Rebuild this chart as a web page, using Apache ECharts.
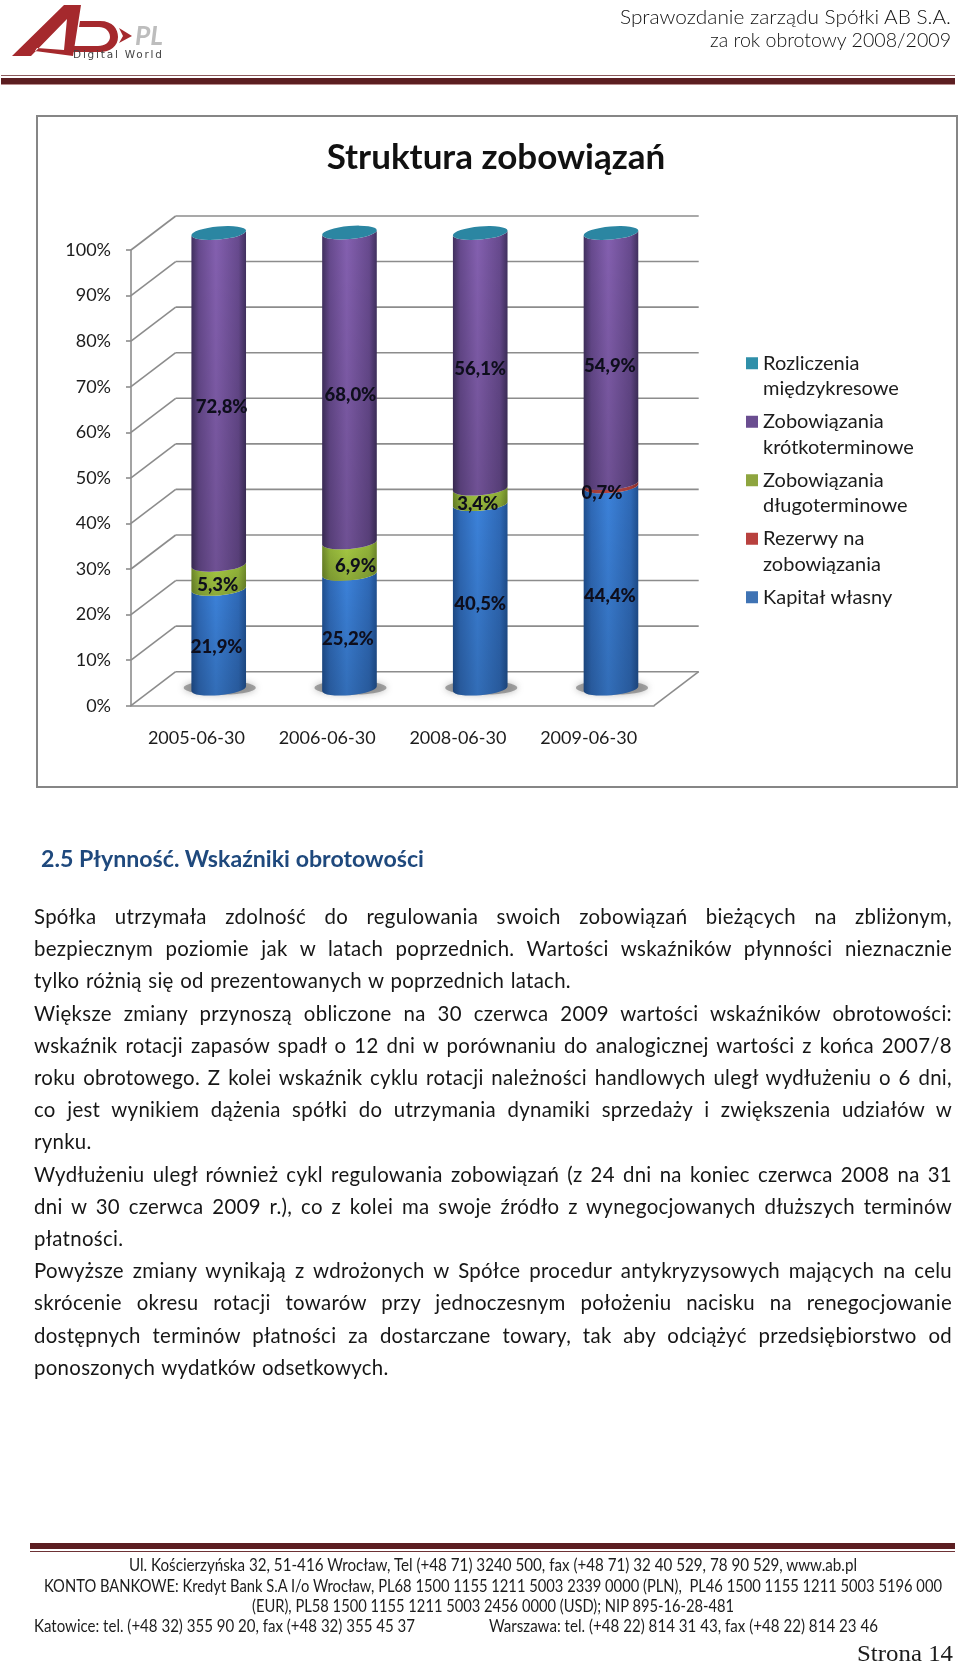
<!DOCTYPE html>
<html lang="pl">
<head>
<meta charset="utf-8">
<title>Struktura zobowiązań</title>
<script src="https://cdn.jsdelivr.net/npm/echarts@6/dist/echarts.min.js"></script>
<style>
html,body{margin:0;padding:0;background:#fff}
#page{position:relative;width:960px;height:1663px;overflow:hidden;font-family:Lato,"Open Sans",sans-serif;color:#1c1c1c}
#chart{position:absolute;left:0;top:0;width:960px;height:1663px}
.ln{position:absolute;white-space:nowrap}
.fit{display:inline-block;transform-origin:0 50%;white-space:pre}
.rule{position:absolute}
</style>
</head>
<body>
<div id="page">
<div id="chart"></div>
<svg style="position:absolute;left:0;top:0" width="180" height="70" viewBox="0 0 180 70">
  <path fill="#a5292d" fill-rule="evenodd" d="M12 56 L64 5 L81 5 L73 56 L35 51 L37 48 L64 50 L67 19 L31 56 Z"/>
  <path fill="#a5292d" fill-rule="evenodd" d="M80 21 L100 21 C113 21 118 29 118 37 C118 46 110 52 100 52 L72 52 L73 46 L98 46 C105 46 110 42 110 37 C110 31 105 27 99 27 L79 27 Z"/>
  <path fill="#a5292d" d="M119 28 L132 36 L119 43 L123 36 Z"/>
  <text x="135" y="45" font-family="Lato,sans-serif" font-style="italic" font-weight="700" font-size="26" textLength="28" lengthAdjust="spacingAndGlyphs" fill="#bdbdbd">PL</text>
  <text x="73" y="58" font-family="DejaVu Sans,sans-serif" font-size="10.5" textLength="89" fill="#444">Digital  World</text>
</svg>
<div class="rule" style="left:1px;top:75px;width:954px;height:1px;background:#8d5a5c"></div>
<div class="rule" style="left:1px;top:78px;width:954px;height:6px;background:#5c1e21"></div>
<div class="rule" style="left:1px;top:84px;width:954px;height:1px;background:#b98d8e"></div>
<div class="rule" style="left:30px;top:1543px;width:925px;height:6px;background:#5c1e21"></div>
<div class="rule" style="left:30px;top:1551px;width:925px;height:1px;background:#6d3235"></div>
<div id="text"></div>
</div>
<script>
// ---- chart data ----
var categories = ['2005-06-30', '2006-06-30', '2008-06-30', '2009-06-30'];
var yTicks = [0, 10, 20, 30, 40, 50, 60, 70, 80, 90, 100];
var kapitalWlasny = [21.9, 25.2, 40.5, 44.4];
var rezerwy = [0, 0, 0, 0.7];
var zobDlugo = [5.3, 6.9, 3.4, 0];
var zobKrotko = [72.8, 68.0, 56.1, 54.9];
var rozliczenia = [0, 0, 0, 0];

// ---- document text around the chart ----
var bodyLines = [
 ['Spółka utrzymała zdolność do regulowania swoich zobowiązań bieżących na zbliżonym,', 1],
 ['bezpiecznym poziomie jak w latach poprzednich. Wartości wskaźników płynności nieznacznie', 1],
 ['tylko różnią się od prezentowanych w poprzednich latach.', 0],
 ['Większe zmiany przynoszą obliczone na 30 czerwca 2009 wartości wskaźników obrotowości:', 1],
 ['wskaźnik rotacji zapasów spadł o 12 dni w porównaniu do analogicznej wartości z końca 2007/8', 1],
 ['roku obrotowego. Z kolei wskaźnik cyklu rotacji należności handlowych uległ wydłużeniu o 6 dni,', 1],
 ['co jest wynikiem dążenia spółki do utrzymania dynamiki sprzedaży i zwiększenia udziałów w', 1],
 ['rynku.', 0],
 ['Wydłużeniu uległ również cykl regulowania zobowiązań (z 24 dni na koniec czerwca 2008 na 31', 1],
 ['dni w 30 czerwca 2009 r.), co z kolei ma swoje źródło z wynegocjowanych dłuższych terminów', 1],
 ['płatności.', 0],
 ['Powyższe zmiany wynikają z wdrożonych w Spółce procedur antykryzysowych mających na celu', 1],
 ['skrócenie okresu rotacji towarów przy jednoczesnym położeniu nacisku na renegocjowanie', 1],
 ['dostępnych terminów płatności za dostarczane towary, tak aby odciążyć przedsiębiorstwo od', 1],
 ['ponoszonych wydatków odsetkowych.', 0]
];
var fitted = [
 // text, x0, x1, centre y, font-size, extra css
 ['Sprawozdanie zarządu Spółki AB S.A.', 620, 951, 16, 20, 'font-weight:300;color:#111'],
 ['za rok obrotowy 2008/2009', 710, 951, 39, 20, 'font-weight:300;color:#111'],
 ['2.5 Płynność. Wskaźniki obrotowości', 41, 424, 858, 23, 'font-weight:700;color:#1f497d'],
 ['Ul. Kościerzyńska 32, 51-416 Wrocław, Tel (+48 71) 3240 500, fax (+48 71) 32 40 529, 78 90 529, www.ab.pl', 129, 857, 1565, 17.5, ''],
 ['KONTO BANKOWE: Kredyt Bank S.A I/o Wrocław, PL68 1500 1155 1211 5003 2339 0000 (PLN),  PL46 1500 1155 1211 5003 5196 000', 44, 942, 1586, 17.5, ''],
 ['(EUR), PL58 1500 1155 1211 5003 2456 0000 (USD); NIP 895-16-28-481', 252, 734, 1606, 17.5, ''],
 ['Katowice: tel. (+48 32) 355 90 20, fax (+48 32) 355 45 37', 34, 415, 1626, 17.5, ''],
 ['Warszawa: tel. (+48 22) 814 31 43, fax (+48 22) 814 23 46', 489, 878, 1626, 17.5, ''],
 ['Strona 14', 857, 953, 1653, 24, 'font-family:"Liberation Serif",serif']
];
var host = document.getElementById('text');
bodyLines.forEach(function (l, i) {
  var d = document.createElement('div');
  d.className = 'ln';
  d.textContent = l[0];
  var y = 916 + i * 32.2;
  d.style.cssText = 'left:34px;width:918px;top:' + (y - 16) + 'px;height:32px;line-height:32px;font-size:20.4px;letter-spacing:0.3px;word-spacing:1px;color:#161616;white-space:normal;' +
    (l[1] ? 'text-align:justify;text-align-last:justify;' : '');
  host.appendChild(d);
});
fitted.forEach(function (f) {
  var d = document.createElement('div');
  d.className = 'ln';
  d.style.cssText = 'left:' + f[1] + 'px;top:' + (f[3] - 16) + 'px;height:32px;line-height:32px;font-size:' + f[4] + 'px;' + f[5];
  var s = document.createElement('span');
  s.className = 'fit';
  s.textContent = f[0];
  d.appendChild(s);
  host.appendChild(d);
  s.style.transform = 'scaleX(' + ((f[2] - f[1]) / s.getBoundingClientRect().width) + ')';
});

// ---- chart ----
var DX = 44.7, DY = -34;          // depth of the 3-D box
var RX = 27.3, RY = 6.5, TILT = 5; // cylinder cross-section
var dyTilt = RX * Math.sin(TILT * Math.PI / 180);

var stackOrder = [
 {name: 'Kapitał własny', legend: '\nKapitał własny\n ', vals: kapitalWlasny, nudge: [-2, -1.5, 0, -1], edge: '#1f4f8f', side: '#2f6ab8', mid: '#3c82da', icon: '#3f73b4'},
 {name: 'Rezerwy na zobowiązania', legend: '\nRezerwy na\nzobowiązania', vals: rezerwy, nudge: [0, 0, 0, -9], edge: '#8a2f2d', side: '#b5433f', mid: '#cf4f4c', icon: '#b8413e'},
 {name: 'Zobowiązania długoterminowe', legend: '\nZobowiązania\ndługoterminowe', vals: zobDlugo, nudge: [-1, 6, -2.5, 0], edge: '#6f8a2a', side: '#93b53a', mid: '#a8cc44', icon: '#8ea53f'},
 {name: 'Zobowiązania krótkoterminowe', legend: '\nZobowiązania\nkrótkoterminowe', vals: zobKrotko, nudge: [3, 1, 0, -1], edge: '#40305e', side: '#674a8e', mid: '#8460b0', icon: '#6a4d90'},
 {name: 'Rozliczenia międzykresowe', legend: '\nRozliczenia\nmiędzykresowe', vals: rozliczenia, nudge: [0, 0, 0, 0], edge: '#1f6f88', side: '#2b86a2', mid: '#2b86a2', icon: '#2f8fa9'}
];

function cylGradient(s) {
  return {type: 'linear', x: 0, y: 0, x2: 1, y2: 0, colorStops: [
    {offset: 0, color: s.edge}, {offset: 0.14, color: s.side},
    {offset: 0.45, color: s.mid},
    {offset: 0.86, color: s.side}, {offset: 1, color: s.edge}]};
}
function arc(x, y, sweep) {
  return 'A' + RX + ' ' + RY + ' ' + (-TILT) + ' 0 ' + sweep + ' ' + x + ' ' + y;
}
function fmt(v) { return v.toFixed(1).replace('.', ',') + '%'; }

function renderSegment(si) {
  return function (params, api) {
    var s = stackOrder[si], idx = api.value(0), v = api.value(1), base = 0;
    for (var k = 0; k < si; k++) base += stackOrder[k].vals[idx];
    var p0 = api.coord([idx, base]), p1 = api.coord([idx, base + v]);
    var cx = p0[0] + DX / 2, y0 = p0[1] + DY / 2, y1 = p1[1] + DY / 2;
    var kids = [];
    if (v > 0) {
      var l = cx - RX, r = cx + RX;
      var d = 'M' + l + ' ' + (y0 + dyTilt) + arc(r, y0 - dyTilt, 0) +
        'L' + r + ' ' + (y1 - dyTilt) + arc(l, y1 + dyTilt, 1) + 'Z';
      kids.push({type: 'path', shape: {pathData: d}, z2: 10, style: {fill: cylGradient(s)}});
      kids.push({type: 'path', shape: {pathData: d}, z2: 11, style: {fill: {type: 'linear', x: 0, y: 0, x2: 0, y2: 1,
        colorStops: [{offset: 0, color: 'rgba(0,0,0,0)'}, {offset: 1, color: 'rgba(0,0,0,0.16)'}]}}});
      kids.push({type: 'text', z2: 50, style: {text: fmt(v), x: cx + s.nudge[idx], y: (y0 + y1) / 2 + 8,
        align: 'center', verticalAlign: 'middle', fill: '#0e0e1c',
        fontFamily: 'Lato', fontWeight: 900, fontSize: 18.5}});
    }
    if (si === stackOrder.length - 1) {
      var lt = cx - RX, rt = cx + RX;
      var e = 'M' + lt + ' ' + (y1 + dyTilt) + arc(rt, y1 - dyTilt, 1) + arc(lt, y1 + dyTilt, 1) + 'Z';
      kids.push({type: 'path', shape: {pathData: e}, z2: 12, style: {fill: s.mid}});
    }
    return {type: 'group', children: kids};
  };
}

function renderWalls(params, api) {
  var g = params.coordSys, v = api.value(0), y = api.coord([0, v])[1];
  var x0 = g.x, x1 = g.x + g.width;
  var st = {stroke: '#8c8c8c', lineWidth: 1.6};
  var kids = [
    {type: 'line', shape: {x1: x0, y1: y, x2: x0 + DX, y2: y + DY}, style: st},
    {type: 'line', shape: {x1: x0 + DX, y1: y + DY, x2: x1 + DX, y2: y + DY}, style: st}
  ];
  if (v === 0) kids.push({type: 'line', shape: {x1: x1, y1: y, x2: x1 + DX, y2: y + DY}, style: st});
  return {type: 'group', children: kids};
}
function renderShadow(params, api) {
  var p = api.coord([api.value(0), 0]);
  return {type: 'ellipse', z2: 5, shape: {cx: p[0] + DX / 2 + 1, cy: p[1] + DY / 2 - 1, rx: 36, ry: 7},
    style: {fill: 'rgba(110,110,110,0.6)', shadowBlur: 7, shadowColor: 'rgba(110,110,110,0.8)'}};
}

var series = [
  {type: 'custom', name: 'walls', silent: true, coordinateSystem: 'cartesian2d', clip: false, data: yTicks.map(function (t) { return [t]; }), encode: {y: 0}, renderItem: renderWalls, z: 1},
  {type: 'custom', name: 'shadow', silent: true, coordinateSystem: 'cartesian2d', clip: false, data: categories.map(function (c, i) { return [i]; }), encode: {x: 0}, renderItem: renderShadow, z: 2}
];
stackOrder.forEach(function (s, si) {
  series.push({
    type: 'custom', name: s.name, coordinateSystem: 'cartesian2d', clip: false, z: 3,
    itemStyle: {color: s.icon},
    data: s.vals.map(function (v, i) { return [i, v]; }),
    encode: {x: 0, y: 1},
    renderItem: renderSegment(si)
  });
});

var chart = echarts.init(document.getElementById('chart'), null, {renderer: 'canvas'});
chart.setOption({
  animation: false,
  backgroundColor: 'transparent',
  title: {text: 'Struktura zobowiązań', left: 491, top: 135, textAlign: 'center',
    textStyle: {fontFamily: 'Lato', fontWeight: 'bold', fontSize: 35, color: '#111'}},
  grid: {left: 131, top: 250, width: 523, height: 455.7, containLabel: false},
  xAxis: {type: 'category', data: categories,
    axisLine: {lineStyle: {color: '#8c8c8c', width: 1.6}},
    axisTick: {alignWithLabel: false, length: 6, lineStyle: {color: '#8c8c8c', width: 1.6}},
    axisLabel: {margin: 23, color: '#1c1c1c', fontFamily: 'Lato', fontSize: 18, interval: 0}},
  yAxis: {type: 'value', min: 0, max: 100, interval: 10,
    splitLine: {show: false},
    axisLine: {show: true, lineStyle: {color: '#8c8c8c', width: 1.6}},
    axisTick: {show: true, length: 5, lineStyle: {color: '#8c8c8c', width: 1.6}},
    axisLabel: {margin: 20, color: '#1c1c1c', fontFamily: 'Lato', fontSize: 18, padding: [7, 0, 0, 0], formatter: '{value}%'}},
  legend: {
    orient: 'vertical', left: 746, top: 325, padding: 0, itemWidth: 12, itemHeight: 12, itemGap: -18,
    selectedMode: false,
    data: stackOrder.slice().reverse().map(function (s) { return {name: s.name, icon: 'rect'}; }),
    formatter: function (n) { return stackOrder.filter(function (s) { return s.name === n; })[0].legend; },
    textStyle: {fontFamily: 'Lato', fontSize: 20, color: '#1c1c1c', lineHeight: 25.5}
  },
  graphic: [{type: 'rect', silent: true, z: -1, shape: {x: 37, y: 116, width: 920, height: 671},
    style: {fill: '#fff', stroke: '#868686', lineWidth: 2}}],
  series: series
});
</script>
</body>
</html>
